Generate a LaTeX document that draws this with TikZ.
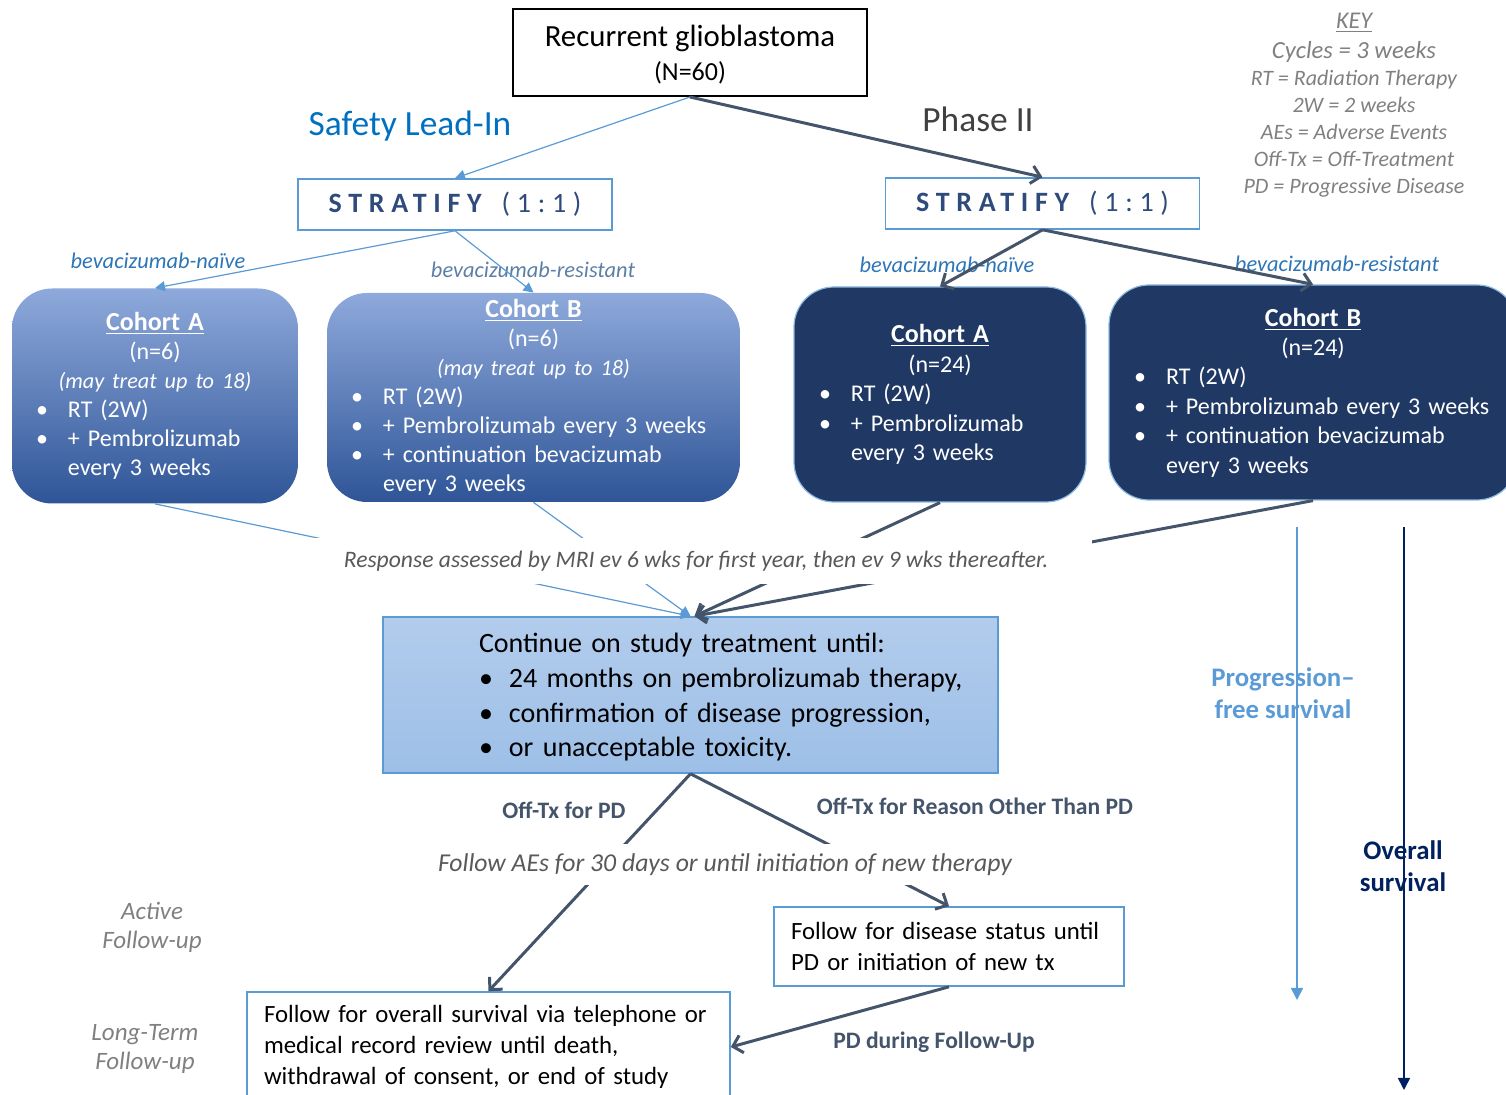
\documentclass[tikz,border=0pt]{standalone}
\usepackage{fontspec}
\setmainfont{Carlito}
\usetikzlibrary{arrows.meta,positioning}

\definecolor{lineblue}{HTML}{5B9BD5}
\definecolor{linedark}{HTML}{44546A}
\definecolor{navy}{HTML}{203864}
\definecolor{cohtop}{HTML}{8EA9DB}
\definecolor{cohbot}{HTML}{2F5597}
\definecolor{conttop}{HTML}{B2CCEC}
\definecolor{contbot}{HTML}{9DBFE7}
\definecolor{safety}{HTML}{0070C0}
\definecolor{strattext}{HTML}{2F4B7C}
\definecolor{bevblue}{HTML}{2E75B6}
\definecolor{bevgray}{HTML}{5B7FA6}
\definecolor{textgray}{HTML}{595959}
\definecolor{keygray}{HTML}{808080}
\definecolor{osnavy}{HTML}{002060}

\newcommand{\itm}[1]{\par\hangindent=13pt\hangafter=1\noindent\makebox[13pt][l]{\hspace{-3pt}\textbullet}#1\par}
\newcommand{\itmc}[1]{\par\hangindent=15pt\hangafter=1\noindent\makebox[15pt][l]{\textbullet}#1\par}
\newcommand{\cohead}[1]{{\fontsize{13}{14.5}\selectfont\bfseries\underline{#1}}}
\newcommand{\strat}{{\bfseries\addfontfeature{LetterSpace=24}STRATIFY}\hspace{10pt}{\addfontfeature{LetterSpace=24}(1:1)}}

\begin{document}
\begin{tikzpicture}[
x=0.5pt, y=-0.5pt,
thinarrow/.style={
  draw=lineblue,
  line width=0.6pt,
  -{Triangle[length=5pt,width=5pt]}
  },
thickarrow/.style={
  draw=linedark,
  line width=1.5pt,
  -{Straight Barb[length=4.5pt,width=9pt]}
  },
stratbox/.style={
  draw=lineblue,
  line width=0.8pt,
  minimum width=157pt,
  minimum height=25.5pt,
  text=strattext,
  font=\fontsize{14}{16}\selectfont
  },
cohortlight/.style={
  rounded corners=20pt,
  top color=cohtop,
  bottom color=cohbot,
  text=white,
  inner xsep=15pt,
  inner ysep=0pt,
  minimum height=#1,
  font=\fontsize{12}{14.5}\selectfont
  },
cohortdark/.style={
  rounded corners=20pt,
  fill=navy,
  draw=lineblue!70,
  line width=0.6pt,
  text=white,
  inner xsep=15.5pt,
  inner ysep=0pt,
  minimum height=#1,
  font=\fontsize{12}{14.7}\selectfont
  },
followbox/.style={
  draw=lineblue,
  line width=0.8pt,
  fill=white,
  align=left,
  inner xsep=8.5pt,
  font=\fontsize{12.4}{15.5}\selectfont
  },
bevlabel/.style={
  font=\fontsize{11.2}{13}\selectfont\itshape
  },
offlabel/.style={
  text=linedark,
  font=\fontsize{11.8}{14}\selectfont\bfseries
  },
sidelabel/.style={
  text=keygray,
  align=center,
  font=\fontsize{12.5}{14.5}\selectfont\itshape
  }
]
\useasboundingbox (0,0) rectangle (1506,1095);

% top
\node[draw=black, line width=1pt, minimum width=177pt, minimum height=43.5pt, align=center, inner sep=0pt,
  font=\fontsize{15.4}{17}\selectfont] (recur) at (690,52.5)
  {\rule{0pt}{13pt}Recurrent glioblastoma\\{\fontsize{13}{14}\selectfont (N=60)}};
\node[text=safety, font=\fontsize{17.7}{20}\selectfont] (safety) at (410,126) {Safety Lead-In};
\node[text=black!75, font=\fontsize{17.7}{20}\selectfont] (phase) at (978,119) {Phase II};

\node[stratbox] (stratL) at (455,204.5) {\strat};
\node[stratbox] (stratR) at (1042.5,203.5) {\strat};

\draw[thinarrow] (recur.south) -- (stratL.north);
\draw[thickarrow] (recur.south) -- (stratR.north);

% key
\node[text=keygray, align=center, font=\fontsize{11}{13.5}\selectfont\itshape] (key) at (1354,105)
  {{\fontsize{12}{13.5}\selectfont\underline{KEY}}\\[1.5pt]{\fontsize{12.3}{13.5}\selectfont Cycles = 3 weeks}\\RT = Radiation Therapy\\2W = 2 weeks\\AEs = Adverse Events\\Off-Tx = Off-Treatment\\PD = Progressive Disease};

% cohorts
\node[bevlabel, text=bevblue] (bevNL) at (158,261) {bevacizumab-naïve};
\node[bevlabel, text=bevgray] (bevRL) at (533,270) {bevacizumab-resistant};
\node[bevlabel, text=bevblue] (bevNR) at (947,265) {bevacizumab-naïve};
\node[bevlabel, text=bevblue] (bevRR) at (1337,264) {bevacizumab-resistant};

\node[cohortlight=107.5pt, text width=113pt] (cohAL) at (155,396)
  {{\centering\cohead{Cohort A}\\(n=6)\\{\fontsize{11.1}{14.5}\selectfont\itshape (may treat up to 18)}\par}
   \raggedright
   \itm{RT (2W)}
   \itm{+ Pembrolizumab\newline every 3 weeks}};
\node[cohortlight=104.5pt, text width=176.5pt] (cohBL) at (533.5,397.5)
  {{\centering\cohead{Cohort B}\\(n=6)\\{\fontsize{11.1}{14.5}\selectfont\itshape (may treat up to 18)}\par}
   \raggedright
   \itm{RT (2W)}
   \itm{\mbox{+ Pembrolizumab every 3 weeks}}
   \itm{+ continuation bevacizumab\newline every 3 weeks}};
\node[cohortdark=107.5pt, text width=115pt] (cohAR) at (940,394.5)
  {{\centering\cohead{Cohort A}\\(n=24)\par}
   \raggedright
   \itm{RT (2W)}
   \itm{+ Pembrolizumab\newline every 3 weeks}};
\node[cohortdark=107.5pt, text width=173pt] (cohBR) at (1313,392.5)
  {{\centering\cohead{Cohort B}\\(n=24)\par}
   \raggedright
   \itm{RT (2W)}
   \itm{\mbox{+ Pembrolizumab every 3 weeks}}
   \itm{+ continuation bevacizumab\newline every 3 weeks}};

\draw[thinarrow] (stratL.south) -- (cohAL.north);
\draw[thinarrow] (stratL.south) -- (cohBL.north);
\draw[thickarrow] (stratR.south) -- (cohAR.north);
\draw[thickarrow] (stratR.south) -- (cohBR.north);

% treatment
\node[draw=lineblue, line width=0.8pt, top color=conttop, bottom color=contbot,
  text width=274.5pt, inner xsep=16.5pt, inner ysep=0pt, minimum height=78pt,
  font=\fontsize{14}{17.3}\selectfont] (cont) at (690.5,695)
  {\leftskip=31.5pt \rule{0pt}{12pt}Continue on study treatment until:
   \itmc{\mbox{24 months on pembrolizumab therapy,}}
   \itmc{\mbox{confirmation of disease progression,}}
   \itmc{or unacceptable toxicity.}};

\draw[thinarrow] (cohAL.south) -- (cont.north);
\draw[thinarrow] (cohBL.south) -- (cont.north);
\draw[thickarrow] (cohAR.south) -- ([xshift=2pt]cont.north);
\draw[thickarrow] (cohBR.south) -- ([xshift=2pt]cont.north);

\node[fill=white, text=textgray, minimum width=396pt, minimum height=23pt, inner sep=0pt,
  font=\fontsize{11.8}{13}\selectfont\itshape] (resp) at (696,561)
  {Response assessed by MRI ev 6 wks for first year, then ev 9 wks thereafter.};

% follow-up
\node[offlabel] (offpd) at (564,810) {Off-Tx for PD};
\node[offlabel] (offother) at (975,806) {Off-Tx for Reason Other Than PD};

\node[followbox, text width=158pt, minimum height=39.5pt] (fds) at (949,946.5)
  {Follow for disease status until\\PD or initiation of new tx};
\node[followbox, text width=224.5pt, minimum height=55pt] (fov) at (488.5,1047)
  {Follow for overall survival via telephone or\\medical record review until death,\\withdrawal of consent, or end of study};

\draw[thickarrow] (cont.south) -- (fov.north);
\draw[thickarrow] (cont.south) -- (fds.north);

\node[fill=white, text=textgray, minimum height=20.5pt, inner xsep=0pt, inner ysep=0pt,
  font=\fontsize{12.85}{14}\selectfont\itshape] (ae) at (725,865)
  {Follow AEs for 30 days or until initiation of new therapy};

\draw[thickarrow] (fds.south) -- (fov.east);
\node[offlabel] (pdfu) at (934,1042) {PD during Follow-Up};

\node[sidelabel] (active) at (152,927) {Active\\Follow-up};
\node[sidelabel] (longterm) at (145,1049) {Long-Term\\Follow-up};

% survival
\node[text=lineblue, align=center, font=\fontsize{13.4}{16}\selectfont\bfseries] (pfs) at (1283,693) {Progression--\\free survival};
\node[text=osnavy, align=center, font=\fontsize{13.4}{16}\selectfont\bfseries] (os) at (1403,866) {Overall\\survival};
\coordinate (pfsTop) at (1297,527);
\coordinate (pfsEnd) at (1297,1000);
\coordinate (osTop) at (1404,527);
\coordinate (osEnd) at (1404,1090);
\draw[draw=lineblue, line width=0.8pt, -{Triangle[length=6pt,width=6pt]}] (pfsTop) -- (pfsEnd);
\draw[draw=osnavy, line width=0.8pt, -{Triangle[length=6pt,width=6pt]}] (osTop) -- (osEnd);

\end{tikzpicture}
\end{document}
